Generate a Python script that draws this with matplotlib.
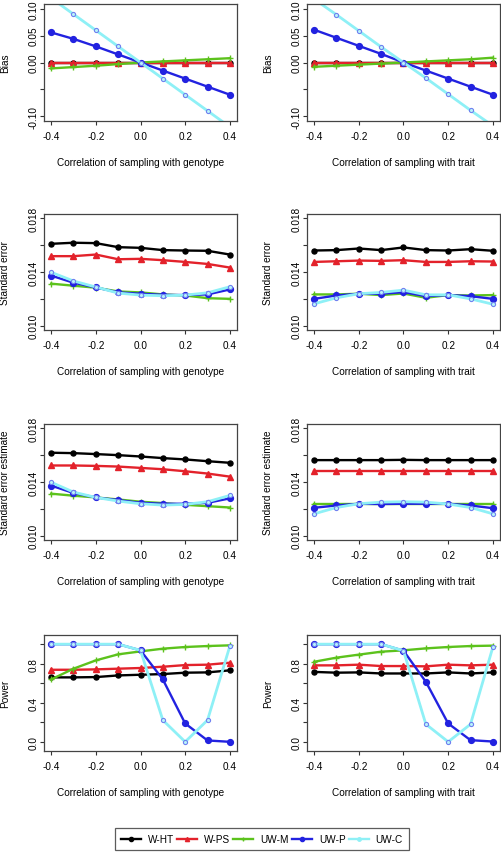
import numpy as np
import matplotlib
matplotlib.use('Agg')
import matplotlib.pyplot as plt
from matplotlib.lines import Line2D

plt.rcParams['font.family'] = ['Liberation Sans', 'DejaVu Sans']

# ---------------- data ----------------
corr = [-0.4, -0.3, -0.2, -0.1, 0.0, 0.1, 0.2, 0.3, 0.4]
methods = ['W-HT', 'W-PS', 'UW-M', 'UW-P', 'UW-C']

# Bias, correlation with genotype
bias_geno_ht = [0.0, 0.0, 0.0, 0.0, 0.0, 0.0, 0.0, 0.0, 0.0]
bias_geno_ps = [0.0, 0.0, 0.0, 0.0, 0.0, 0.0, 0.0, 0.0, 0.0]
bias_geno_m  = [-0.011, -0.0085, -0.006, -0.003, 0.0, 0.002, 0.004, 0.006, 0.008]
bias_geno_p  = [0.056, 0.044, 0.030, 0.015, 0.0, -0.015, -0.030, -0.045, -0.060]
bias_geno_c  = [0.12, 0.09, 0.06, 0.03, 0.0, -0.03, -0.06, -0.09, -0.12]
# Bias, correlation with trait
bias_trait_ht = [0.0, 0.0, 0.0, 0.0, 0.0, 0.0, 0.0, 0.0, 0.0]
bias_trait_ps = [0.0, 0.0, 0.0, 0.0, 0.0, 0.0, 0.0, 0.0, 0.0]
bias_trait_m  = [-0.008, -0.006, -0.004, -0.002, 0.0, 0.002, 0.004, 0.006, 0.009]
bias_trait_p  = [0.061, 0.046, 0.031, 0.016, 0.0, -0.015, -0.030, -0.045, -0.060]
bias_trait_c  = [0.118, 0.089, 0.059, 0.029, 0.0, -0.029, -0.059, -0.089, -0.118]

# Standard error, genotype
se_geno_ht = [0.01610, 0.01618, 0.01615, 0.01585, 0.01580, 0.01563, 0.01560, 0.01558, 0.01530]
se_geno_ps = [0.01518, 0.01518, 0.01530, 0.01495, 0.01498, 0.01488, 0.01475, 0.01460, 0.01433]
se_geno_m  = [0.01313, 0.01298, 0.01283, 0.01255, 0.01248, 0.01233, 0.01225, 0.01205, 0.01200]
se_geno_p  = [0.01373, 0.01320, 0.01285, 0.01248, 0.01238, 0.01230, 0.01228, 0.01233, 0.01270]
se_geno_c  = [0.01398, 0.01333, 0.01288, 0.01243, 0.01228, 0.01223, 0.01228, 0.01245, 0.01290]
# Standard error, trait
se_trait_ht = [0.01560, 0.01563, 0.01575, 0.01563, 0.01583, 0.01563, 0.01560, 0.01570, 0.01558]
se_trait_ps = [0.01475, 0.01480, 0.01485, 0.01483, 0.01488, 0.01475, 0.01475, 0.01480, 0.01478]
se_trait_m  = [0.01233, 0.01233, 0.01238, 0.01228, 0.01240, 0.01208, 0.01228, 0.01225, 0.01228]
se_trait_p  = [0.01200, 0.01225, 0.01238, 0.01238, 0.01250, 0.01220, 0.01228, 0.01220, 0.01200]
se_trait_c  = [0.01163, 0.01208, 0.01238, 0.01248, 0.01265, 0.01230, 0.01230, 0.01200, 0.01160]

# Standard error estimate, genotype
see_geno_ht = [0.01618, 0.01615, 0.01608, 0.01600, 0.01590, 0.01578, 0.01568, 0.01555, 0.01543]
see_geno_ps = [0.01523, 0.01523, 0.01520, 0.01515, 0.01505, 0.01495, 0.01480, 0.01463, 0.01440]
see_geno_m  = [0.01313, 0.01298, 0.01285, 0.01270, 0.01253, 0.01243, 0.01230, 0.01220, 0.01210]
see_geno_p  = [0.01373, 0.01318, 0.01285, 0.01265, 0.01245, 0.01238, 0.01238, 0.01245, 0.01278]
see_geno_c  = [0.01398, 0.01325, 0.01285, 0.01258, 0.01238, 0.01228, 0.01233, 0.01253, 0.01300]
# Standard error estimate, trait
see_trait_ht = [0.01563, 0.01563, 0.01563, 0.01563, 0.01565, 0.01563, 0.01563, 0.01563, 0.01563]
see_trait_ps = [0.01480, 0.01480, 0.01480, 0.01480, 0.01480, 0.01480, 0.01480, 0.01480, 0.01480]
see_trait_m  = [0.01235, 0.01235, 0.01235, 0.01235, 0.01235, 0.01235, 0.01235, 0.01235, 0.01235]
see_trait_p  = [0.01208, 0.01225, 0.01238, 0.01236, 0.01238, 0.01238, 0.01238, 0.01225, 0.01205]
see_trait_c  = [0.01163, 0.01210, 0.01238, 0.01250, 0.01253, 0.01250, 0.01236, 0.01210, 0.01163]

# Power, genotype
pow_geno_ht = [0.660, 0.660, 0.663, 0.680, 0.687, 0.694, 0.708, 0.711, 0.732]
pow_geno_ps = [0.738, 0.738, 0.742, 0.749, 0.756, 0.769, 0.786, 0.790, 0.810]
pow_geno_m  = [0.639, 0.749, 0.834, 0.896, 0.926, 0.954, 0.971, 0.981, 0.988]
pow_geno_p  = [1.000, 1.000, 1.000, 1.000, 0.937, 0.639, 0.188, 0.014, 0.000]
pow_geno_c  = [1.000, 1.000, 1.000, 1.000, 0.937, 0.222, 0.000, 0.222, 0.980]
# Power, trait
pow_trait_ht = [0.716, 0.708, 0.711, 0.700, 0.700, 0.700, 0.711, 0.700, 0.711]
pow_trait_ps = [0.783, 0.783, 0.790, 0.776, 0.776, 0.773, 0.790, 0.783, 0.790]
pow_trait_m  = [0.820, 0.862, 0.893, 0.923, 0.937, 0.957, 0.971, 0.981, 0.985]
pow_trait_p  = [1.000, 1.000, 1.000, 1.000, 0.933, 0.615, 0.188, 0.017, 0.003]
pow_trait_c  = [1.000, 1.000, 1.000, 1.000, 0.933, 0.181, 0.000, 0.180, 0.970]

# ---------------- styles ----------------
colors  = ['black', '#e3222b', '#5cc21c', '#2222e0', '#8ef0f6']
markers = ['o', '^', '+', 'o', 'o']
msizes  = [3.6, 3.8, 4.0, 4.2, 3.0]
FS = 7.2

panels = [
    ('Bias', 'Correlation of sampling with genotype',
     [bias_geno_ht, bias_geno_ps, bias_geno_m, bias_geno_p, bias_geno_c]),
    ('Bias', 'Correlation of sampling with trait',
     [bias_trait_ht, bias_trait_ps, bias_trait_m, bias_trait_p, bias_trait_c]),
    ('Standard error', 'Correlation of sampling with genotype',
     [se_geno_ht, se_geno_ps, se_geno_m, se_geno_p, se_geno_c]),
    ('Standard error', 'Correlation of sampling with trait',
     [se_trait_ht, se_trait_ps, se_trait_m, se_trait_p, se_trait_c]),
    ('Standard error estimate', 'Correlation of sampling with genotype',
     [see_geno_ht, see_geno_ps, see_geno_m, see_geno_p, see_geno_c]),
    ('Standard error estimate', 'Correlation of sampling with trait',
     [see_trait_ht, see_trait_ps, see_trait_m, see_trait_p, see_trait_c]),
    ('Power', 'Correlation of sampling with genotype',
     [pow_geno_ht, pow_geno_ps, pow_geno_m, pow_geno_p, pow_geno_c]),
    ('Power', 'Correlation of sampling with trait',
     [pow_trait_ht, pow_trait_ps, pow_trait_m, pow_trait_p, pow_trait_c]),
]

yaxes = {
    'Bias': ((-0.109, 0.109), [-0.10, -0.05, 0.0, 0.05, 0.10],
             ['-0.10', '', '0.00', '0.05', '0.10']),
    'Standard error': ((0.00968, 0.01832), [0.010, 0.012, 0.014, 0.016, 0.018],
                       ['0.010', '', '0.014', '', '0.018']),
    'Standard error estimate': ((0.00968, 0.01832), [0.010, 0.012, 0.014, 0.016, 0.018],
                                ['0.010', '', '0.014', '', '0.018']),
    'Power': ((-0.094, 1.094), [0.0, 0.2, 0.4, 0.6, 0.8, 1.0],
              ['0.0', '', '0.4', '', '0.8', '']),
}

W, H = 502, 853
fig = plt.figure(figsize=(W / 100, H / 100), dpi=100)

col_x = [(44, 237), (307, 500)]
row_y = [(5, 122), (215, 331), (425, 541), (636, 752)]

for i, (ylab, xlab, series) in enumerate(panels):
    r, c = divmod(i, 2)
    x0, x1 = col_x[c]
    y0, y1 = row_y[r]
    ax = fig.add_axes([x0 / W, 1 - y1 / H, (x1 - x0) / W, (y1 - y0) / H])
    for k, ys in enumerate(series):
        if k == 4:
            ax.plot(corr, ys, color=colors[k], lw=2.0, marker='o', ms=msizes[k],
                    mfc='#b8f4fa', mec='#7080f0', mew=0.8)
        else:
            ax.plot(corr, ys, color=colors[k], lw=1.7, marker=markers[k],
                    ms=msizes[k], mew=1.0)
    ax.set_xlim(-0.432, 0.432)
    lim, ticks, labels = yaxes[ylab]
    ax.set_ylim(*lim)
    ax.set_yticks(ticks)
    ax.set_yticklabels(labels, rotation=90, va='center', fontsize=FS)
    ax.set_xticks([-0.4, -0.2, 0.0, 0.2, 0.4])
    ax.set_xticklabels(['-0.4', '-0.2', '0.0', '0.2', '0.4'], fontsize=FS)
    ax.tick_params(direction='out', length=3.2, width=0.8, color='#333333')
    ax.tick_params(axis='x', pad=4)
    ax.tick_params(axis='y', pad=1)
    for s in ax.spines.values():
        s.set_color('#444444')
        s.set_linewidth(0.9)
    ax.set_xlabel(xlab, fontsize=FS)
    ax.xaxis.set_label_coords(0.5, -41.0 / (y1 - y0))
    ax.xaxis.label.set_va('center')
    ax.set_ylabel(ylab, fontsize=FS)
    ax.yaxis.set_label_coords(-39.0 / (x1 - x0), 0.5)
    ax.yaxis.label.set_va('center')

handles = []
for k in range(5):
    if k == 4:
        handles.append(Line2D([], [], color=colors[k], lw=1.7, marker='o', ms=2.5,
                              mfc=colors[k], mec=colors[k]))
    else:
        handles.append(Line2D([], [], color=colors[k], lw=1.7, marker=markers[k],
                              ms=3.0, mew=1.0))
leg = fig.legend(handles, methods, loc='center', bbox_to_anchor=(262 / W, 1 - 840 / H),
                 ncol=5, fontsize=FS, frameon=True, fancybox=False, edgecolor='#333333',
                 handlelength=2.0, columnspacing=0.3, handletextpad=0.7,
                 borderpad=0.6, borderaxespad=0)
leg.get_frame().set_linewidth(0.9)

fig.savefig('out.png', dpi=100)
